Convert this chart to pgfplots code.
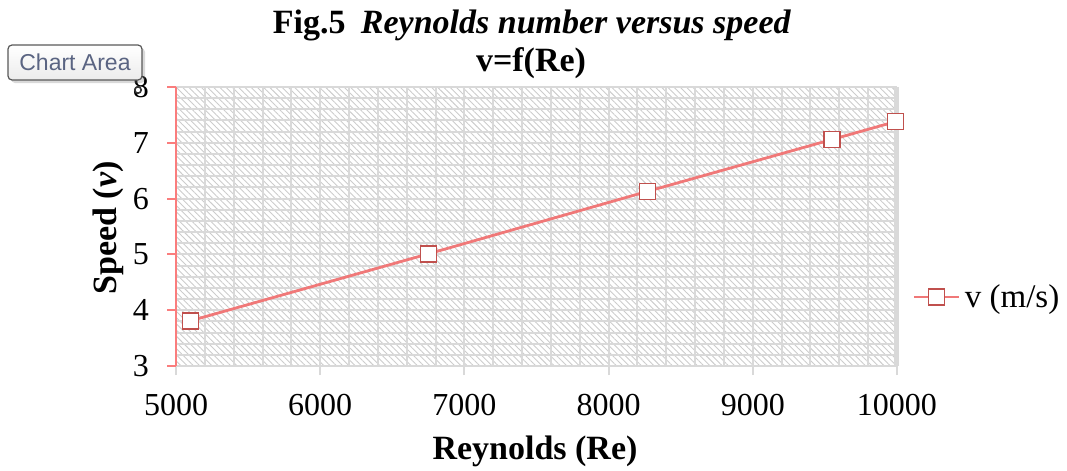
\documentclass[border=0pt]{standalone}
\usepackage{pgfplots}
\pgfplotsset{compat=1.18}
\usepackage{fontspec}
\setmainfont{Liberation Serif}
\newfontfamily\uifont{Liberation Sans}
\usetikzlibrary{patterns.meta,shadows}
\definecolor{axred}{RGB}{250,125,125}
\definecolor{linered}{RGB}{240,120,120}
\definecolor{markred}{RGB}{192,80,77}
\definecolor{gridgray}{RGB}{217,217,217}
\definecolor{uitext}{RGB}{90,100,130}
\begin{document}
\begin{tikzpicture}
\useasboundingbox (0pt,0pt) rectangle (533.5pt,-235.5pt);
\begin{axis}[
  at={(88pt,-183pt)}, anchor=south west,
  scale only axis, width=360.5pt, height=139.5pt,
  xmin=5000, xmax=10000, ymin=3, ymax=8,
  xtick={5000,6000,7000,8000,9000,10000},
  ytick={3,4,5,6,7,8},
  minor x tick num=4, minor y tick num=4,
  grid=both,
  major grid style={gridgray, line width=1pt},
  minor grid style={gridgray, line width=1pt},
  axis background/.style={pattern={Lines[angle=-45,distance=2.2pt,line width=0.45pt]}, pattern color=gray!40},
  axis x line=bottom, axis y line=left,
  x axis line style={draw=none,-},
  y axis line style={draw=axred, line width=1pt, -},
  tick align=outside,
  minor tick length=0pt,
  x tick style={gridgray, line width=1pt},
  y tick style={axred, line width=1pt},
  major tick length=4.5pt,
  scaled ticks=false,
  /pgf/number format/assume math mode=true,
  xticklabel={\pgfmathprintnumber[fixed,1000 sep={}]{\tick}},
  ticklabel style={font=\fontsize{16}{19}\selectfont},
  xticklabel style={yshift=-6pt},
  yticklabel style={xshift=-5.5pt},
  legend style={at={(1.021,0.247)}, anchor=west, draw=none, fill=none,
    font=\fontsize{16.5}{19}\selectfont, inner sep=0pt},
  legend image code/.code={\draw[mark repeat=2,mark phase=2,#1] plot coordinates {(0cm,0cm) (0.4cm,0cm) (0.8cm,0cm)};},
  clip=false,
]
\draw[gridgray, line width=2.5pt] (axis cs:10000,3) -- (axis cs:10000,8);
\addplot[color=linered, line width=1.4pt, mark=square*, mark size=4pt,
  mark options={fill=white, draw=markred, line width=0.7pt}]
  coordinates {(5100,3.81) (6750,5.01) (8270,6.13) (9550,7.06) (9990,7.38)};
\addlegendentry{v (m/s)}
\end{axis}
\node[font=\fontsize{17}{20}\selectfont\bfseries, anchor=base] at (266pt,-16.5pt) {Fig.5\hspace{0.45em}\textit{Reynolds number versus speed}};
\node[font=\fontsize{17}{20}\selectfont\bfseries, anchor=base] at (265.5pt,-35.5pt) {v=f(Re)};
\node[font=\fontsize{17}{20}\selectfont\bfseries, rotate=90] at (54pt,-114pt) {Speed (\textit{v})};
\node[font=\fontsize{17}{20}\selectfont\bfseries, anchor=base] at (267.5pt,-229.5pt) {Reynolds (Re)};
\node[draw=gray!70!black, rounded corners=2pt, line width=0.6pt,
  top color=white, bottom color=gray!15, drop shadow={opacity=0.3,shadow xshift=1.5pt,shadow yshift=-1.5pt},
  minimum width=67pt, minimum height=17.5pt, inner sep=0pt,
  font=\uifont\fontsize{11.5}{13}\selectfont, text=uitext] at (37.5pt,-31.25pt) {Chart Area};
\draw[black!80, line width=0.8pt, fill=white] (69pt,-45pt) circle (1.6pt);
\end{tikzpicture}
\end{document}
